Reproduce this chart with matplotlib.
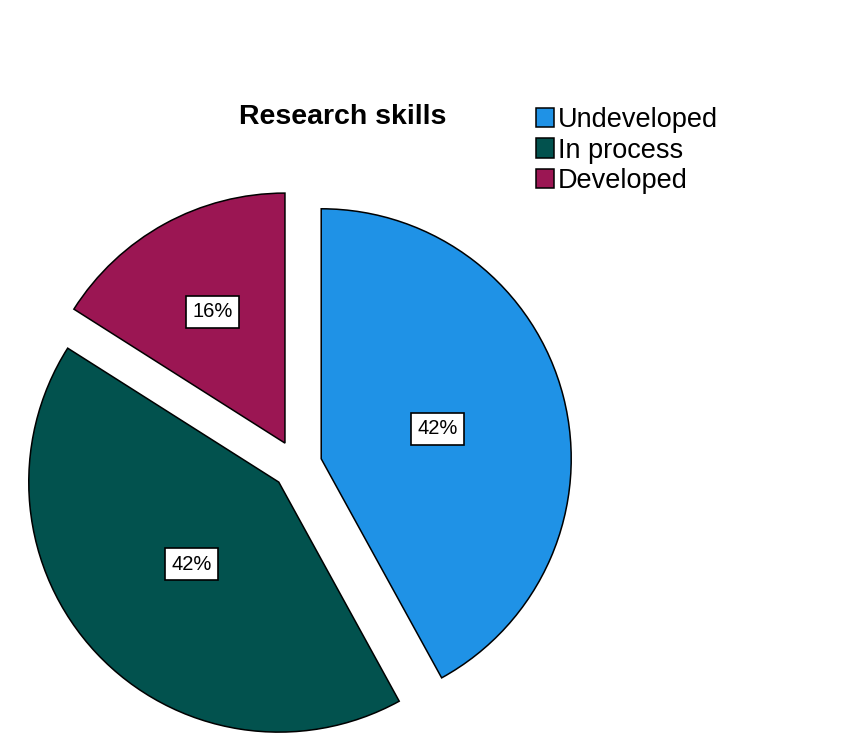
import matplotlib
matplotlib.use('Agg')
import matplotlib.pyplot as plt
import numpy as np

plt.rcParams['font.family'] = ['Liberation Sans', 'DejaVu Sans']

# data
categories = ['Undeveloped', 'In process', 'Developed']
shares = [42, 42, 16]
colors = ['#1f92e6', '#02524e', '#9b1653']
label_dist = [0.48, 0.48, 0.60]

fig = plt.figure(figsize=(8.51, 7.5), dpi=100)
ax = fig.add_axes([0, 0, 1, 1])

center = (297, 285)
radius = 250
gap = 25  # explode offset in pixels (pie uses data units here)
wedges, _ = ax.pie(shares, colors=colors, startangle=90, counterclock=False,
                   center=center, radius=radius, explode=[gap] * 3,
                   wedgeprops=dict(edgecolor='black', linewidth=1.1),
                   frame=True)
ax.set_xlim(0, 851)
ax.set_ylim(0, 750)
ax.set_aspect('equal')
ax.axis('off')

# percentage boxes
for w, s, d in zip(wedges, shares, label_dist):
    ang = np.deg2rad((w.theta1 + w.theta2) / 2)
    cx, cy = w.center
    ax.text(cx + d * radius * np.cos(ang), cy + d * radius * np.sin(ang),
            f'{s}%', ha='center', va='center', fontsize=14.5,
            bbox=dict(boxstyle='square,pad=0.32', facecolor='white',
                      edgecolor='black', linewidth=1.2))

fig.text(343 / 851, 1 - 117 / 750, 'Research skills', ha='center', va='center',
         fontsize=20.5, fontweight='bold')

leg = fig.legend(wedges, categories, loc='upper left',
                 bbox_to_anchor=(536 / 851, 1 - 107 / 750), frameon=False,
                 fontsize=19.5, handlelength=0.68, handleheight=0.72,
                 handletextpad=0.12, labelspacing=0.17, borderpad=0,
                 borderaxespad=0)

fig.savefig('out.png', dpi=100)
